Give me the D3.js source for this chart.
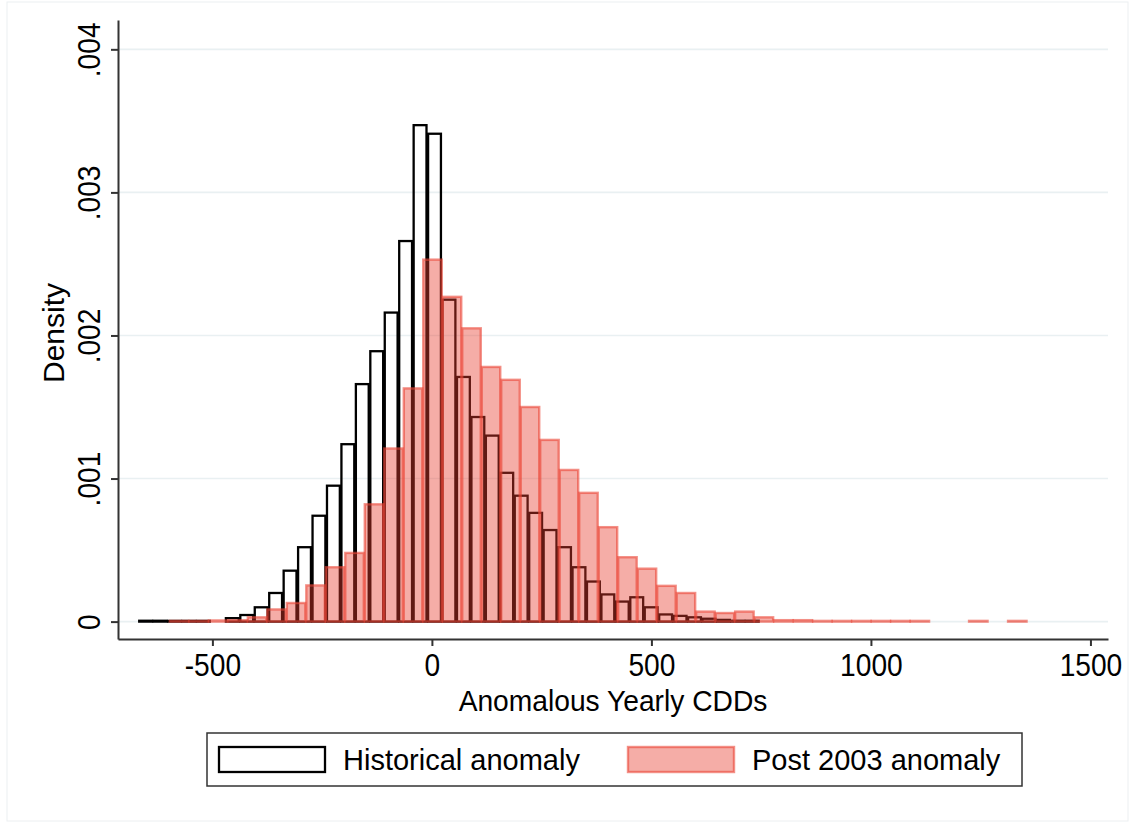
<!DOCTYPE html>
<html>
<head>
<meta charset="utf-8">
<script src="https://cdn.jsdelivr.net/npm/d3@7"></script>
<style>
  body { margin: 0; background: #fff; }
  svg { display: block; font-family: "Liberation Sans", Arial, Helvetica, sans-serif; }
</style>
</head>
<body>
<svg id="chart" width="1135" height="825"></svg>
<script>
// Historical anomaly histogram: first bin left edge, bin width, densities
var histStart = -668.5;
var histWidth = 32.9;
var histDensity = [
    0.000006, 0.000006, 0.000005, 0.000005, 0.000005, 0, 0.000024, 0.000046, 0.0001, 0.0002,
    0.000356, 0.00052, 0.00074, 0.00095, 0.00124, 0.00166, 0.00189, 0.00216, 0.00266, 0.00347,
    0.00341, 0.00225, 0.00171, 0.00143, 0.0013, 0.00104, 0.00088, 0.00076, 0.00064, 0.00052,
    0.00038, 0.00028, 0.00019, 0.00014, 0.00017, 0.0001, 0.00005, 0.00004, 0.00003, 0.00002,
    0.000012, 0.000006, 0.000006
];

// Post 2003 anomaly histogram
var postStart = -598;
var postWidth = 44.4;
var postDensity = [
    0.000005, 0.000005, 0.000008, 0.00001, 0.00003, 0.000085, 0.00013, 0.000253, 0.00038, 0.00048,
    0.00082, 0.00121, 0.00163, 0.00253, 0.00227, 0.00205, 0.00178, 0.00169, 0.0015, 0.00127,
    0.00106, 0.0009, 0.00066, 0.00045, 0.00037, 0.00025, 0.0002, 0.00007, 0.00006, 0.00007,
    0.00003, 0.00001, 0.00001, 0.000005, 0.000005, 0.000005, 0.000005, 0.000005, 0.000005, 0,
    0, 0.000005, 0, 0.000005
];

var xTicks = [-500, 0, 500, 1000, 1500];
var yTicks = [0, 0.001, 0.002, 0.003, 0.004];
var legendLabels = ["Historical anomaly", "Post 2003 anomaly"];

(function() {
    var svg = d3.select("#chart");

    var plotLeft = 118, plotRight = 1108, plotTop = 20, plotBottom = 639;

    var xScale = d3.scaleLinear().domain([-715, 1540]).range([plotLeft, plotRight]);
    var yScale = d3.scaleLinear().domain([-0.0001216, 0.004205]).range([plotBottom, plotTop]);

    // faint outer frame
    svg.append("rect")
        .attr("x", 7).attr("y", 2)
        .attr("width", 1121).attr("height", 819)
        .attr("fill", "none")
        .attr("stroke", "#eceff1")
        .attr("stroke-width", 1);

    // gridlines
    svg.append("g").selectAll("line")
        .data(yTicks)
        .enter().append("line")
        .attr("x1", plotLeft).attr("x2", plotRight)
        .attr("y1", function(d) { return yScale(d); })
        .attr("y2", function(d) { return yScale(d); })
        .attr("stroke", "#e9f0f2")
        .attr("stroke-width", 1.6);

    function bins(start, width, values) {
        return values.map(function(v, i) {
            return { x0: start + i * width, x1: start + (i + 1) * width, d: v };
        }).filter(function(b) { return b.d > 0; });
    }

    // historical bars (outline only)
    svg.append("g").selectAll("rect")
        .data(bins(histStart, histWidth, histDensity))
        .enter().append("rect")
        .attr("x", function(b) { return xScale(b.x0) + 0.8; })
        .attr("width", function(b) { return xScale(b.x1) - xScale(b.x0) - 1.6; })
        .attr("y", function(b) { return yScale(b.d); })
        .attr("height", function(b) { return yScale(0) - yScale(b.d); })
        .attr("fill", "none")
        .attr("stroke", "#000")
        .attr("stroke-width", 2.3);

    // post 2003 bars (translucent red)
    var redFill = "rgba(230,60,45,0.42)";
    var redLine = "rgba(235,70,55,0.6)";
    svg.append("g").selectAll("rect")
        .data(bins(postStart, postWidth, postDensity))
        .enter().append("rect")
        .attr("x", function(b) { return xScale(b.x0) + 0.5; })
        .attr("width", function(b) { return xScale(b.x1) - xScale(b.x0) - 1; })
        .attr("y", function(b) { return yScale(b.d); })
        .attr("height", function(b) { return yScale(0) - yScale(b.d); })
        .attr("fill", redFill)
        .attr("stroke", redLine)
        .attr("stroke-width", 2.4);

    // x axis
    var xAxis = svg.append("g")
        .attr("transform", "translate(0," + plotBottom + ")")
        .call(d3.axisBottom(xScale).tickValues(xTicks).tickSize(7).tickSizeOuter(0)
            .tickFormat(function(d) { return String(d); }));
    xAxis.select(".domain").attr("stroke", "#333").attr("stroke-width", 2);
    xAxis.selectAll(".tick line").attr("stroke", "#333").attr("stroke-width", 2);
    xAxis.selectAll("text")
        .attr("x", 0).attr("y", 0).attr("dy", 0)
        .attr("transform", "translate(0,37) scale(0.88,1)")
        .attr("fill", "#000")
        .style("font-size", "32px")
        .style("font-family", "'Liberation Sans', Arial, sans-serif");

    // y axis
    var yFormat = function(d) { return d === 0 ? "0" : d3.format(".3f")(d).replace(/^0/, ""); };
    var yAxis = svg.append("g")
        .attr("transform", "translate(" + plotLeft + ",0)")
        .call(d3.axisLeft(yScale).tickValues(yTicks).tickSize(7).tickSizeOuter(0).tickFormat(yFormat));
    yAxis.select(".domain").attr("stroke", "#333").attr("stroke-width", 2);
    yAxis.selectAll(".tick line").attr("stroke", "#333").attr("stroke-width", 2);
    yAxis.selectAll("text")
        .attr("x", 0).attr("y", 0).attr("dy", 0)
        .attr("transform", "translate(-18,0) rotate(-90) scale(0.88,1)")
        .attr("text-anchor", "middle")
        .attr("fill", "#000")
        .style("font-size", "32px")
        .style("font-family", "'Liberation Sans', Arial, sans-serif");

    // axis titles
    svg.append("text")
        .attr("transform", "translate(613,711) scale(0.94,1)")
        .attr("text-anchor", "middle")
        .style("font-size", "30px")
        .text("Anomalous Yearly CDDs");

    svg.append("text")
        .attr("transform", "translate(64,333) rotate(-90)")
        .attr("text-anchor", "middle")
        .style("font-size", "30px")
        .text("Density");

    // legend
    var legend = svg.append("g");
    legend.append("rect")
        .attr("x", 207).attr("y", 733)
        .attr("width", 815).attr("height", 53)
        .attr("fill", "#fff")
        .attr("stroke", "#333")
        .attr("stroke-width", 1.5);

    legend.append("rect")
        .attr("x", 219).attr("y", 747).attr("width", 106).attr("height", 25)
        .attr("fill", "#fff").attr("stroke", "#000").attr("stroke-width", 2.3);
    legend.append("rect")
        .attr("x", 628).attr("y", 747).attr("width", 106).attr("height", 25)
        .attr("fill", redFill).attr("stroke", redLine).attr("stroke-width", 2.4);

    legend.selectAll("text.lab")
        .data(legendLabels)
        .enter().append("text")
        .attr("class", "lab")
        .attr("x", function(d, i) { return i === 0 ? 343 : 752; })
        .attr("y", 770)
        .style("font-size", "29px")
        .text(function(d) { return d; });
})();
</script>
</body>
</html>
